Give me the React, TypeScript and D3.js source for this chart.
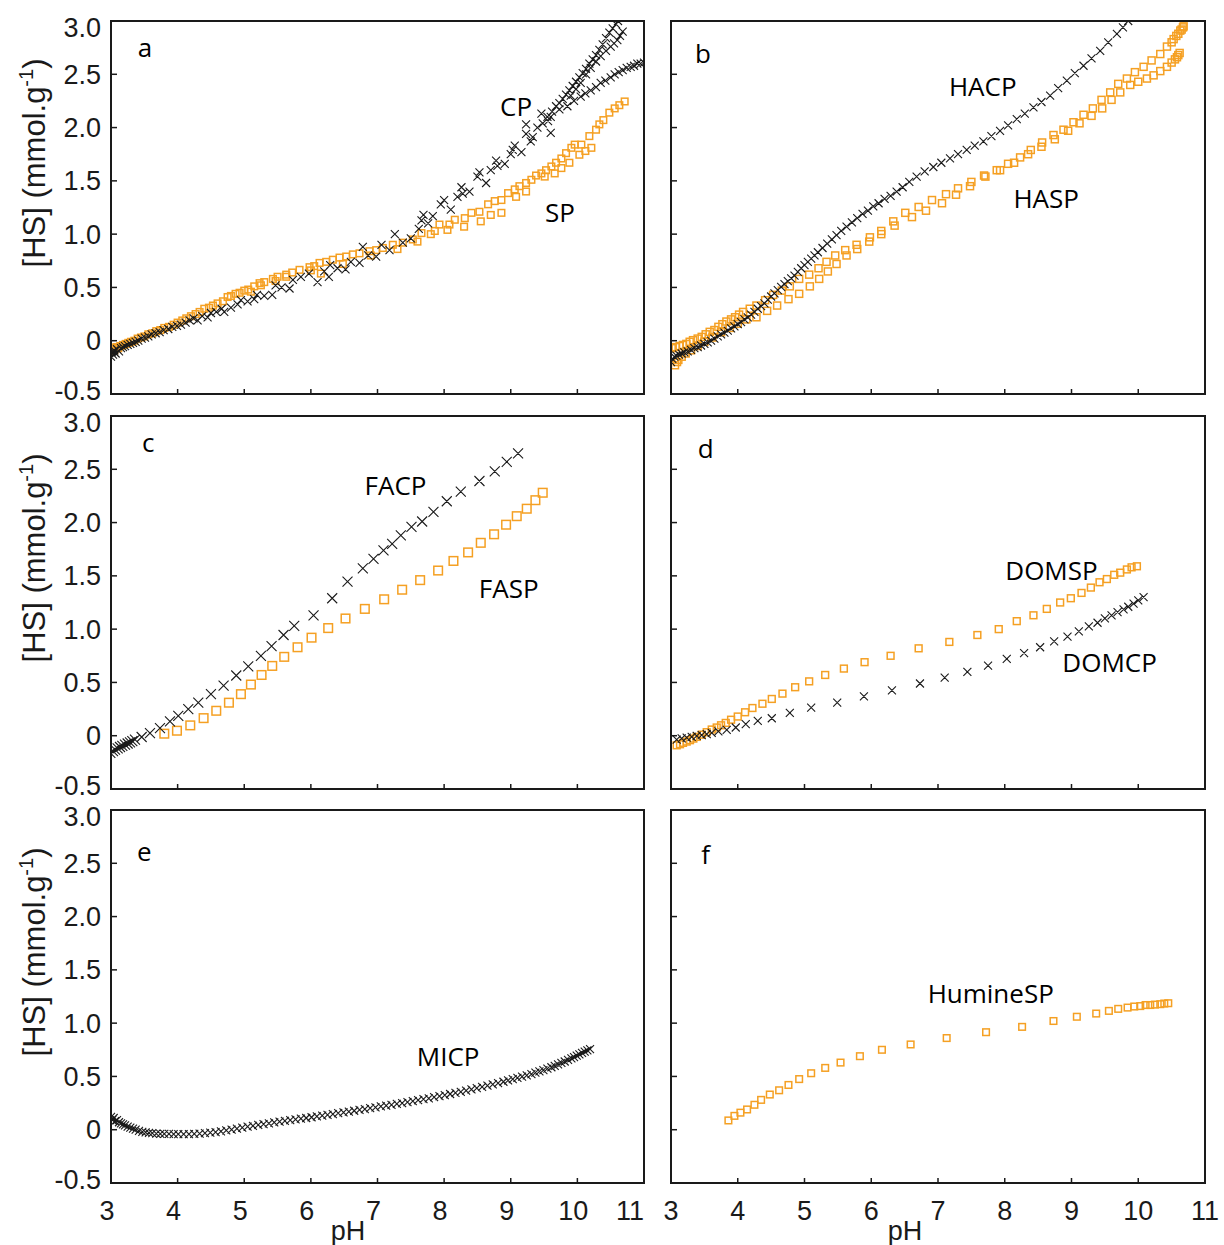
import React from 'react';
import * as d3 from 'd3';

const xTicks = [3, 4, 5, 6, 7, 8, 9, 10, 11];
const yTicks = [-0.5, 0, 0.5, 1.0, 1.5, 2.0, 2.5, 3.0];
const yTickLabels = ['-0.5', '0', '0.5', '1.0', '1.5', '2.0', '2.5', '3.0'];

// ---- panel a ----
const cpMain = [
  [3.0, -0.15], [3.01, -0.11], [3.03, -0.13], [3.05, -0.09], [3.07, -0.12], [3.09, -0.08], [3.12, -0.1], [3.15, -0.07],
  [3.18, -0.06], [3.21, -0.05], [3.25, -0.04], [3.29, -0.03], [3.33, -0.02], [3.37, -0.01], [3.41, 0.0], [3.46, 0.02],
  [3.51, 0.03], [3.56, 0.04], [3.61, 0.06], [3.67, 0.07], [3.73, 0.08], [3.79, 0.1], [3.86, 0.11], [3.92, 0.13],
  [3.99, 0.14], [4.05, 0.15], [4.12, 0.17], [4.18, 0.19], [4.24, 0.21], [4.3, 0.19], [4.37, 0.23], [4.45, 0.22],
  [4.5, 0.26], [4.58, 0.27], [4.66, 0.3], [4.7, 0.27], [4.8, 0.31], [4.9, 0.34], [4.95, 0.38], [5.05, 0.37],
  [5.15, 0.39], [5.19, 0.43], [5.3, 0.42], [5.42, 0.43], [5.47, 0.52], [5.56, 0.5], [5.68, 0.49], [5.73, 0.57],
  [5.85, 0.6], [5.97, 0.63], [6.1, 0.55], [6.2, 0.65], [6.27, 0.6], [6.29, 0.71], [6.4, 0.68], [6.52, 0.67],
  [6.6, 0.74], [6.73, 0.73], [6.78, 0.88], [6.86, 0.8], [6.98, 0.79], [7.06, 0.9], [7.18, 0.85], [7.26, 1.0],
  [7.38, 0.92], [7.5, 0.96], [7.62, 1.05], [7.66, 1.13], [7.69, 1.18], [7.76, 1.1], [7.83, 1.17], [7.95, 1.28],
  [8.0, 1.32], [8.1, 1.23], [8.2, 1.35], [8.26, 1.44], [8.28, 1.38], [8.38, 1.4], [8.5, 1.54], [8.53, 1.58],
  [8.63, 1.48], [8.7, 1.6], [8.78, 1.69], [8.8, 1.64], [8.91, 1.66], [9.0, 1.75], [9.03, 1.79], [9.06, 1.83],
  [9.16, 1.77], [9.23, 1.94], [9.3, 1.87], [9.33, 1.91], [9.4, 2.0], [9.46, 2.13], [9.48, 2.04], [9.56, 2.06],
  [9.6, 1.95], [9.23, 2.03],
];
const cpBranchA = [
  [9.55, 2.1], [9.62, 2.15], [9.68, 2.2], [9.73, 2.23], [9.78, 2.27], [9.83, 2.31], [9.88, 2.35], [9.93, 2.39],
  [9.98, 2.43], [10.03, 2.47], [10.08, 2.51], [10.13, 2.55], [10.18, 2.6], [10.23, 2.64], [10.28, 2.68], [10.33, 2.73],
  [10.38, 2.78], [10.43, 2.84], [10.48, 2.89], [10.53, 2.93], [10.58, 2.97], [10.61, 3.0],
];
const cpBranchB = [
  [9.9, 2.3], [9.98, 2.36], [10.05, 2.42], [10.13, 2.5], [10.2, 2.56], [10.28, 2.62], [10.35, 2.67], [10.43, 2.72],
  [10.5, 2.76], [10.55, 2.79], [10.6, 2.82], [10.64, 2.86], [10.68, 2.9],
];
const cpBranchC = [
  [9.6, 2.1], [9.73, 2.17], [9.85, 2.2], [9.95, 2.25], [10.05, 2.29], [10.12, 2.32], [10.2, 2.35], [10.28, 2.38],
  [10.35, 2.42], [10.42, 2.44], [10.5, 2.47], [10.56, 2.5], [10.62, 2.52], [10.68, 2.54], [10.74, 2.56], [10.8, 2.57],
  [10.85, 2.58], [10.9, 2.6], [10.95, 2.6], [11.0, 2.61],
];
const spMain = [
  [3.0, -0.1], [3.02, -0.07], [3.05, -0.09], [3.08, -0.06], [3.11, -0.07], [3.14, -0.05], [3.18, -0.04], [3.22, -0.03],
  [3.26, -0.02], [3.3, -0.01], [3.35, 0.0], [3.4, 0.02], [3.45, 0.03], [3.5, 0.04], [3.56, 0.06], [3.62, 0.07],
  [3.68, 0.09], [3.74, 0.1], [3.8, 0.12], [3.87, 0.13], [3.94, 0.15], [4.0, 0.17], [4.07, 0.19], [4.13, 0.21],
  [4.2, 0.23], [4.27, 0.25], [4.33, 0.27], [4.4, 0.3], [4.47, 0.31], [4.53, 0.33], [4.6, 0.35], [4.68, 0.37],
  [4.75, 0.41], [4.8, 0.42], [4.87, 0.44], [4.93, 0.45], [5.0, 0.47], [5.06, 0.48], [5.15, 0.51], [5.23, 0.54],
  [5.3, 0.55], [5.43, 0.58], [5.5, 0.6], [5.63, 0.62], [5.72, 0.64], [5.83, 0.665], [5.98, 0.69], [6.05, 0.7],
  [6.13, 0.73], [6.23, 0.74], [6.33, 0.76], [6.43, 0.78], [6.53, 0.79], [6.63, 0.81], [6.73, 0.82], [6.88, 0.84],
  [6.98, 0.85], [7.08, 0.87], [7.23, 0.9], [7.38, 0.92], [7.53, 0.95], [7.66, 1.01], [7.86, 1.03], [7.93, 1.09],
  [8.08, 1.09], [8.16, 1.135], [8.31, 1.15], [8.41, 1.2], [8.53, 1.21], [8.66, 1.28], [8.76, 1.31], [8.86, 1.32],
  [8.96, 1.385], [9.06, 1.42], [9.13, 1.45], [9.23, 1.48], [9.31, 1.51], [9.38, 1.55], [9.46, 1.57], [9.53, 1.6],
  [9.61, 1.635], [9.68, 1.67], [9.76, 1.71], [9.83, 1.76], [9.91, 1.81], [9.96, 1.84], [10.06, 1.84], [10.18, 1.92],
  [10.28, 1.98], [10.33, 2.03], [10.39, 2.07], [10.48, 2.14], [10.56, 2.18], [10.63, 2.21], [10.71, 2.245],
];
const spLow = [
  [5.1, 0.46], [5.25, 0.52], [5.47, 0.56], [5.63, 0.6], [6.0, 0.66], [6.15, 0.63], [6.48, 0.72], [6.9, 0.8],
  [7.3, 0.86], [7.6, 0.93], [7.8, 1.0], [8.05, 1.04], [8.3, 1.07], [8.55, 1.12], [8.7, 1.18], [8.86, 1.2],
  [9.08, 1.35], [9.23, 1.4], [9.51, 1.54], [9.66, 1.57], [9.76, 1.62], [9.88, 1.67], [10.03, 1.745], [10.12, 1.78],
  [10.21, 1.81],
];

// ---- panel b ----
const hacp = [
  [3.0, -0.2], [3.02, -0.17], [3.05, -0.15], [3.08, -0.14], [3.12, -0.13], [3.16, -0.12], [3.2, -0.11], [3.25, -0.1],
  [3.3, -0.085], [3.35, -0.07], [3.4, -0.06], [3.45, -0.045], [3.5, -0.03], [3.55, -0.015], [3.6, 0.0], [3.65, 0.02],
  [3.7, 0.04], [3.75, 0.06], [3.8, 0.075], [3.85, 0.095], [3.9, 0.115], [3.95, 0.135], [4.0, 0.155], [4.05, 0.175],
  [4.1, 0.2], [4.15, 0.22], [4.2, 0.245], [4.25, 0.27], [4.3, 0.3], [4.35, 0.325], [4.4, 0.35], [4.45, 0.385],
  [4.5, 0.415], [4.55, 0.445], [4.6, 0.475], [4.65, 0.505], [4.7, 0.53], [4.75, 0.56], [4.8, 0.585], [4.85, 0.61],
  [4.9, 0.645], [4.95, 0.68], [5.0, 0.71], [5.05, 0.74], [5.1, 0.77], [5.15, 0.8], [5.2, 0.83], [5.27, 0.87],
  [5.34, 0.91], [5.41, 0.95], [5.48, 0.99], [5.55, 1.03], [5.63, 1.07], [5.71, 1.11], [5.79, 1.15], [5.87, 1.19],
  [5.95, 1.22], [6.03, 1.26], [6.11, 1.29], [6.2, 1.33], [6.29, 1.36], [6.38, 1.4], [6.47, 1.44], [6.57, 1.49],
  [6.68, 1.54], [6.8, 1.59], [6.93, 1.63], [7.05, 1.67], [7.18, 1.71], [7.3, 1.75], [7.43, 1.79], [7.55, 1.83],
  [7.68, 1.87], [7.8, 1.92], [7.93, 1.97], [8.05, 2.02], [8.18, 2.08], [8.3, 2.13], [8.43, 2.19], [8.55, 2.24],
  [8.68, 2.3], [8.8, 2.37], [8.93, 2.44], [9.05, 2.51], [9.18, 2.58], [9.3, 2.65], [9.43, 2.72], [9.55, 2.8],
  [9.68, 2.88], [9.77, 2.94], [9.85, 3.0],
];
const haspUpper = [
  [3.01, -0.07], [3.07, -0.06], [3.13, -0.05], [3.18, -0.04], [3.23, -0.03], [3.28, -0.01], [3.33, 0.005], [3.4, 0.02],
  [3.46, 0.036], [3.52, 0.06], [3.58, 0.083], [3.65, 0.1], [3.71, 0.13], [3.77, 0.155], [3.83, 0.18], [3.9, 0.2],
  [3.96, 0.22], [4.02, 0.245], [4.08, 0.27], [4.18, 0.3], [4.28, 0.33], [4.41, 0.38], [4.53, 0.43], [4.66, 0.47],
  [4.78, 0.51], [4.92, 0.58], [5.07, 0.62], [5.21, 0.68], [5.33, 0.74], [5.46, 0.8], [5.61, 0.85], [5.78, 0.9],
  [5.98, 0.97], [6.15, 1.03], [6.33, 1.12], [6.51, 1.2], [6.71, 1.255], [6.91, 1.32], [7.12, 1.375], [7.3, 1.43],
  [7.5, 1.49], [7.69, 1.55], [7.88, 1.6], [8.05, 1.66], [8.23, 1.72], [8.39, 1.79], [8.56, 1.86], [8.73, 1.93],
  [8.88, 1.98], [9.03, 2.05], [9.18, 2.12], [9.32, 2.18], [9.45, 2.26], [9.58, 2.33], [9.7, 2.41], [9.83, 2.46],
  [9.95, 2.52], [10.08, 2.57], [10.2, 2.63], [10.33, 2.69], [10.43, 2.76], [10.5, 2.8], [10.53, 2.83], [10.57, 2.86],
  [10.6, 2.88], [10.63, 2.91], [10.65, 2.92], [10.67, 2.94], [10.68, 2.95],
];
const haspLower = [
  [3.06, -0.23], [3.09, -0.2], [3.11, -0.18], [3.16, -0.15], [3.22, -0.12], [3.3, -0.09], [3.4, -0.05], [3.5, -0.01],
  [3.62, 0.03], [3.75, 0.08], [3.88, 0.12], [4.0, 0.16], [4.13, 0.2], [4.28, 0.22], [4.44, 0.28], [4.59, 0.33],
  [4.76, 0.39], [4.92, 0.44], [5.08, 0.51], [5.22, 0.58], [5.35, 0.65], [5.48, 0.72], [5.63, 0.8], [5.79, 0.86],
  [5.97, 0.93], [6.15, 1.0], [6.35, 1.08], [6.61, 1.16], [6.82, 1.22], [7.06, 1.29], [7.27, 1.37], [7.48, 1.45],
  [7.71, 1.54], [7.93, 1.6], [8.14, 1.67], [8.35, 1.75], [8.55, 1.82], [8.75, 1.89], [8.95, 1.97], [9.12, 2.04],
  [9.3, 2.11], [9.46, 2.18], [9.6, 2.26], [9.73, 2.33], [9.88, 2.4], [10.0, 2.43], [10.13, 2.46], [10.23, 2.49],
  [10.33, 2.53], [10.43, 2.57], [10.5, 2.61], [10.55, 2.64], [10.58, 2.66], [10.6, 2.68], [10.62, 2.7],
];

// ---- panel c ----
const facp = [
  [2.99, -0.16], [3.03, -0.145], [3.06, -0.13], [3.1, -0.118], [3.135, -0.106], [3.17, -0.095], [3.21, -0.084],
  [3.25, -0.073], [3.285, -0.063], [3.32, -0.05], [3.36, -0.037], [3.46, -0.012], [3.585, 0.025], [3.735, 0.072],
  [3.885, 0.134], [4.01, 0.187], [4.16, 0.25], [4.31, 0.31], [4.5, 0.39], [4.69, 0.47], [4.88, 0.565], [5.06, 0.65],
  [5.25, 0.75], [5.41, 0.84], [5.59, 0.945], [5.75, 1.03], [6.04, 1.13], [6.32, 1.29], [6.55, 1.445], [6.78, 1.57],
  [6.94, 1.66], [7.09, 1.74], [7.22, 1.8], [7.35, 1.88], [7.51, 1.96], [7.67, 2.01], [7.84, 2.1], [8.04, 2.2],
  [8.25, 2.29], [8.53, 2.39], [8.76, 2.48], [8.94, 2.57], [9.11, 2.65],
];
const fasp = [
  [3.8, 0.019], [3.99, 0.047], [4.19, 0.097], [4.39, 0.165], [4.58, 0.234], [4.77, 0.31], [4.95, 0.39], [5.1, 0.48],
  [5.26, 0.57], [5.42, 0.655], [5.6, 0.74], [5.8, 0.83], [6.01, 0.92], [6.26, 1.01], [6.52, 1.1], [6.81, 1.19],
  [7.1, 1.28], [7.37, 1.37], [7.64, 1.46], [7.91, 1.55], [8.14, 1.64], [8.36, 1.72], [8.55, 1.81], [8.75, 1.89],
  [8.93, 1.98], [9.09, 2.06], [9.24, 2.13], [9.37, 2.21], [9.48, 2.28],
];

// ---- panel d ----
const domsp = [
  [3.085, -0.09], [3.135, -0.08], [3.18, -0.067], [3.235, -0.055], [3.285, -0.042], [3.335, -0.027], [3.385, -0.011],
  [3.46, 0.01], [3.535, 0.033], [3.61, 0.058], [3.685, 0.077], [3.75, 0.098], [3.82, 0.12], [3.9, 0.15], [4.0, 0.18],
  [4.11, 0.22], [4.22, 0.26], [4.37, 0.3], [4.51, 0.345], [4.67, 0.395], [4.86, 0.455], [5.07, 0.51], [5.31, 0.57],
  [5.59, 0.63], [5.9, 0.69], [6.29, 0.75], [6.71, 0.82], [7.17, 0.88], [7.59, 0.945], [7.91, 1.0], [8.18, 1.075],
  [8.43, 1.13], [8.63, 1.19], [8.83, 1.25], [8.99, 1.29], [9.15, 1.34], [9.29, 1.39], [9.42, 1.44], [9.53, 1.47],
  [9.64, 1.51], [9.73, 1.53], [9.83, 1.56], [9.9, 1.58], [9.98, 1.59],
];
const domcp = [
  [3.085, -0.036], [3.16, -0.026], [3.235, -0.017], [3.31, -0.011], [3.385, -0.002], [3.46, 0.005], [3.535, 0.014],
  [3.61, 0.026], [3.71, 0.04], [3.835, 0.054], [3.97, 0.077], [4.12, 0.108], [4.3, 0.139], [4.51, 0.164],
  [4.78, 0.214], [5.1, 0.264], [5.49, 0.31], [5.89, 0.37], [6.31, 0.426], [6.73, 0.49], [7.1, 0.545], [7.44, 0.6],
  [7.75, 0.657], [8.03, 0.72], [8.29, 0.775], [8.53, 0.83], [8.74, 0.885], [8.94, 0.93], [9.11, 0.98], [9.26, 1.025],
  [9.39, 1.06], [9.5, 1.1], [9.6, 1.13], [9.69, 1.16], [9.78, 1.185], [9.85, 1.21], [9.93, 1.24], [10.0, 1.27],
  [10.08, 1.3],
];

// ---- panel e ----
const micp = [
  [3.0, 0.12], [3.02, 0.09], [3.04, 0.11], [3.06, 0.08], [3.09, 0.09], [3.12, 0.07], [3.15, 0.06], [3.18, 0.05],
  [3.21, 0.04], [3.25, 0.03], [3.29, 0.02], [3.33, 0.01], [3.37, 0.0], [3.42, -0.01], [3.47, -0.02], [3.52, -0.025],
  [3.57, -0.03], [3.62, -0.033], [3.68, -0.036], [3.74, -0.038], [3.8, -0.04], [3.87, -0.04], [3.94, -0.041],
  [4.01, -0.042], [4.09, -0.042], [4.17, -0.041], [4.25, -0.04], [4.33, -0.037], [4.41, -0.033], [4.49, -0.028],
  [4.57, -0.022], [4.65, -0.015], [4.73, -0.007], [4.81, 0.0], [4.89, 0.01], [4.97, 0.02], [5.05, 0.03],
  [5.13, 0.037], [5.21, 0.045], [5.29, 0.052], [5.37, 0.06], [5.45, 0.068], [5.53, 0.075], [5.61, 0.082],
  [5.69, 0.09], [5.77, 0.098], [5.85, 0.105], [5.93, 0.11], [6.01, 0.117], [6.09, 0.125], [6.17, 0.133],
  [6.25, 0.14], [6.33, 0.147], [6.41, 0.155], [6.49, 0.163], [6.57, 0.17], [6.65, 0.178], [6.73, 0.186],
  [6.81, 0.194], [6.89, 0.202], [6.97, 0.21], [7.05, 0.218], [7.13, 0.226], [7.21, 0.234], [7.29, 0.242],
  [7.37, 0.25], [7.45, 0.259], [7.53, 0.268], [7.61, 0.277], [7.69, 0.286], [7.77, 0.295], [7.85, 0.305],
  [7.93, 0.315], [8.01, 0.325], [8.09, 0.335], [8.17, 0.345], [8.25, 0.356], [8.33, 0.367], [8.41, 0.378],
  [8.49, 0.39], [8.57, 0.402], [8.65, 0.414], [8.73, 0.426], [8.81, 0.438], [8.89, 0.45], [8.96, 0.462],
  [9.03, 0.474], [9.1, 0.486], [9.17, 0.498], [9.24, 0.51], [9.31, 0.522], [9.37, 0.535], [9.43, 0.548],
  [9.49, 0.56], [9.55, 0.573], [9.61, 0.586], [9.66, 0.6], [9.71, 0.613], [9.76, 0.627], [9.81, 0.64],
  [9.86, 0.655], [9.91, 0.67], [9.95, 0.682], [9.99, 0.695], [10.03, 0.707], [10.07, 0.72], [10.11, 0.732],
  [10.15, 0.745], [10.19, 0.757],
];

// ---- panel f ----
const huminesp = [
  [3.86, 0.087], [3.95, 0.13], [4.04, 0.16], [4.14, 0.19], [4.25, 0.234], [4.35, 0.28], [4.48, 0.33], [4.62, 0.37],
  [4.76, 0.42], [4.92, 0.475], [5.1, 0.53], [5.31, 0.58], [5.54, 0.63], [5.83, 0.69], [6.16, 0.75], [6.59, 0.8],
  [7.13, 0.86], [7.72, 0.915], [8.26, 0.965], [8.73, 1.02], [9.08, 1.06], [9.37, 1.09], [9.56, 1.115], [9.7, 1.134],
  [9.84, 1.146], [9.94, 1.156], [10.03, 1.16], [10.11, 1.17], [10.18, 1.17], [10.25, 1.174], [10.33, 1.178],
  [10.39, 1.184], [10.45, 1.187],
];

const BLACK = '#1a1a1a';
const ORANGE = '#f5a023';

type Series = { data: number[][]; marker: 'x' | 'sq'; size: number };
type Label = { text: string; pH: number; hs: number; size: number };
type Panel = { col: number; row: number; series: Series[]; labels: Label[] };

const panels: Panel[] = [
  {
    col: 0, row: 0,
    series: [
      { data: spMain, marker: 'sq', size: 3.3 },
      { data: spLow, marker: 'sq', size: 3.3 },
      { data: cpMain, marker: 'x', size: 4 },
      { data: cpBranchA, marker: 'x', size: 4 },
      { data: cpBranchB, marker: 'x', size: 4 },
      { data: cpBranchC, marker: 'x', size: 4 },
    ],
    labels: [
      { text: 'a', pH: 3.51, hs: 2.66, size: 26 },
      { text: 'CP', pH: 9.08, hs: 2.11, size: 26 },
      { text: 'SP', pH: 9.74, hs: 1.11, size: 26 },
    ],
  },
  {
    col: 1, row: 0,
    series: [
      { data: haspUpper, marker: 'sq', size: 3.5 },
      { data: haspLower, marker: 'sq', size: 3.5 },
      { data: hacp, marker: 'x', size: 4 },
    ],
    labels: [
      { text: 'b', pH: 3.48, hs: 2.61, size: 26 },
      { text: 'HACP', pH: 7.67, hs: 2.3, size: 26 },
      { text: 'HASP', pH: 8.62, hs: 1.245, size: 26 },
    ],
  },
  {
    col: 0, row: 1,
    series: [
      { data: fasp, marker: 'sq', size: 4.3 },
      { data: facp, marker: 'x', size: 5 },
    ],
    labels: [
      { text: 'c', pH: 3.56, hs: 2.66, size: 26 },
      { text: 'FACP', pH: 7.27, hs: 2.26, size: 26 },
      { text: 'FASP', pH: 8.97, hs: 1.29, size: 26 },
    ],
  },
  {
    col: 1, row: 1,
    series: [
      { data: domsp, marker: 'sq', size: 3.4 },
      { data: domcp, marker: 'x', size: 4 },
    ],
    labels: [
      { text: 'd', pH: 3.52, hs: 2.61, size: 26 },
      { text: 'DOMSP', pH: 8.7, hs: 1.46, size: 26 },
      { text: 'DOMCP', pH: 9.57, hs: 0.595, size: 26 },
    ],
  },
  {
    col: 0, row: 2,
    series: [{ data: micp, marker: 'x', size: 4 }],
    labels: [
      { text: 'e', pH: 3.5, hs: 2.52, size: 26 },
      { text: 'MICP', pH: 8.06, hs: 0.6, size: 26 },
    ],
  },
  {
    col: 1, row: 2,
    series: [{ data: huminesp, marker: 'sq', size: 3.3 }],
    labels: [
      { text: 'f', pH: 3.52, hs: 2.49, size: 26 },
      { text: 'HumineSP', pH: 7.79, hs: 1.19, size: 26 },
    ],
  },
];

const colsPx = [
  { x0: 111, x1: 644 },
  { x0: 671, x1: 1205 },
];
const rowsPx = [
  { y0: 21, y1: 394 },
  { y0: 416, y1: 789 },
  { y0: 810, y1: 1183 },
];

const TICK_FONT = '"Liberation Sans", Arial, sans-serif';
const LABEL_FONT = '"Open Sans", "Noto Sans", sans-serif';

function PanelView({ p, idx }: { p: Panel; idx: number }) {
  const c = colsPx[p.col];
  const r = rowsPx[p.row];
  const x = d3.scaleLinear().domain([3, 11]).range([c.x0, c.x1]);
  const y = d3.scaleLinear().domain([-0.5, 3]).range([r.y1, r.y0]);
  const clipId = `clip-${idx}`;
  const crossPath = (px: number, py: number, s: number) =>
    `M${px - s},${py - s}L${px + s},${py + s}M${px - s},${py + s}L${px + s},${py - s}`;

  return (
    <g>
      <defs>
        <clipPath id={clipId}>
          <rect x={c.x0} y={r.y0 - 1} width={c.x1 - c.x0} height={r.y1 - r.y0 + 1} />
        </clipPath>
      </defs>
      <g clipPath={`url(#${clipId})`}>
        {p.series.map((s, si) =>
          s.marker === 'sq' ? (
            <g key={si} fill="none" stroke={ORANGE} strokeWidth={1.5}>
              {s.data.map((d, i) => (
                <rect key={i} x={x(d[0]) - s.size} y={y(d[1]) - s.size} width={2 * s.size} height={2 * s.size} />
              ))}
            </g>
          ) : (
            <path
              key={si}
              d={s.data.map((d) => crossPath(x(d[0]), y(d[1]), s.size)).join('')}
              fill="none"
              stroke={BLACK}
              strokeWidth={1.1}
            />
          )
        )}
      </g>
      {xTicks.slice(1, -1).map((t) => (
        <line key={'xt' + t} x1={x(t)} x2={x(t)} y1={r.y1} y2={r.y1 - 5} stroke={BLACK} strokeWidth={1.5} />
      ))}
      {yTicks.slice(1, -1).map((t) => (
        <line key={'yt' + t} x1={c.x0} x2={c.x0 + 6} y1={y(t)} y2={y(t)} stroke={BLACK} strokeWidth={1.5} />
      ))}
      <rect x={c.x0} y={r.y0} width={c.x1 - c.x0} height={r.y1 - r.y0} fill="none" stroke={BLACK} strokeWidth={2} />
      {p.col === 0 &&
        yTicks.map((t, i) => {
          let dy = 0;
          if (i === yTicks.length - 1) dy = 6;
          if (i === 0) dy = -4;
          return (
            <text
              key={'yl' + t}
              x={101}
              y={y(t) + dy + 9.5}
              textAnchor="end"
              fontFamily={TICK_FONT}
              fontSize={27}
              fill={BLACK}
            >
              {yTickLabels[i]}
            </text>
          );
        })}
      {p.col === 0 && (
        <text
          transform={`translate(45,${r.y0 + 142}) rotate(-90)`}
          textAnchor="middle"
          fontFamily={TICK_FONT}
          fontSize={31}
          fill={BLACK}
        >
          [HS] (mmol.g
          <tspan fontSize={20} dy={-12}>-1</tspan>
          <tspan dy={12}>)</tspan>
        </text>
      )}
      {p.row === 2 &&
        xTicks.map((t) => {
          let px = x(t);
          if (p.col === 0) px = t === 11 ? 630 : px - 4;
          return (
            <text key={'xl' + t} x={px} y={1220} textAnchor="middle" fontFamily={TICK_FONT} fontSize={27} fill={BLACK}>
              {t}
            </text>
          );
        })}
      {p.row === 2 && (
        <text
          x={p.col === 0 ? 348 : 905}
          y={1240}
          textAnchor="middle"
          fontFamily={TICK_FONT}
          fontSize={27}
          fill={BLACK}
        >
          pH
        </text>
      )}
      {p.labels.map((l, i) => (
        <text key={'lb' + i} x={x(l.pH)} y={y(l.hs)} textAnchor="middle" fontFamily={LABEL_FONT} fontSize={l.size} fill="#000">
          {l.text}
        </text>
      ))}
    </g>
  );
}

export default function App() {
  return (
    <svg
      width={1224}
      height={1245}
      viewBox="0 0 1224 1245"
      style={{ position: 'absolute', left: 0, top: 0, background: '#fff' }}
    >
      <rect x={0} y={0} width={1224} height={1245} fill="#fff" />
      {panels.map((p, i) => (
        <PanelView key={i} p={p} idx={i} />
      ))}
    </svg>
  );
}
